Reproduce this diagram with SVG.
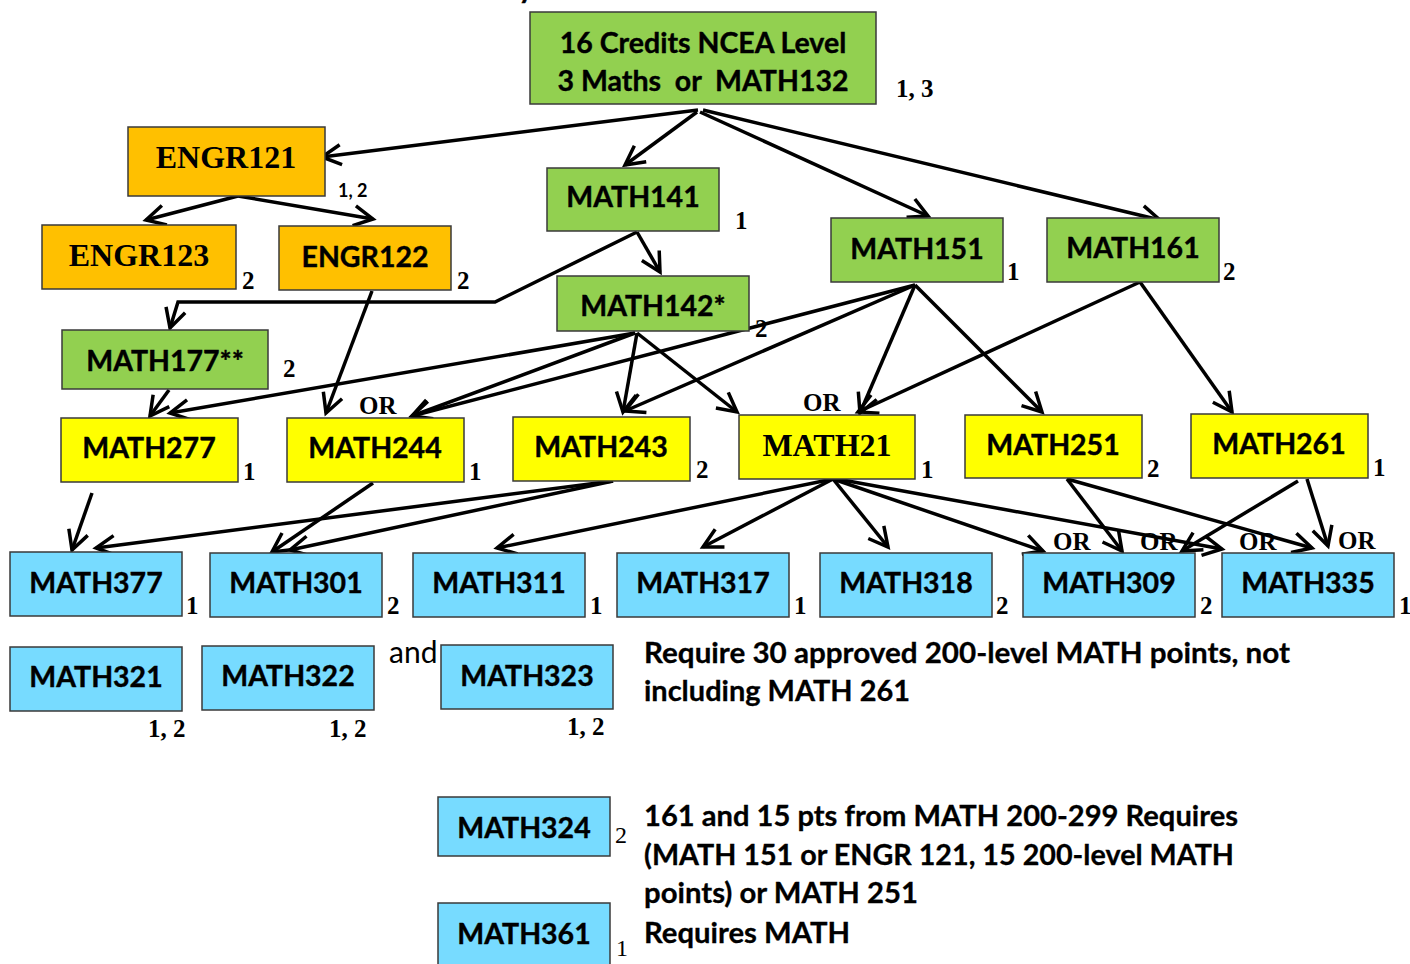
<svg xmlns="http://www.w3.org/2000/svg" width="1410" height="964" viewBox="0 0 1410 964">
<defs>
<marker id="a" markerUnits="userSpaceOnUse" markerWidth="30" markerHeight="30" viewBox="-24 -15 30 30" refX="0" refY="0" orient="auto" overflow="visible">
<path d="M-19,-10 L0,0 L-19,10" fill="none" stroke="#000" stroke-width="3.5" stroke-linejoin="miter"/>
</marker>
<style>
.bx{stroke:#3a3a3a;stroke-width:1.5}
.g{fill:#92D050}.o{fill:#FFC000}.y{fill:#FFFF00}.b{fill:#77DBFF}
.t{font-family:Lato,"Liberation Sans",sans-serif;font-weight:bold;font-size:28.5px;text-anchor:middle;fill:#000;stroke:#000;stroke-width:0.4}
.tt{font-family:"Liberation Serif",serif;font-weight:bold;font-size:32px;text-anchor:middle;fill:#000}
.n{font-family:"Liberation Serif",serif;font-weight:bold;font-size:25px;fill:#000}
.nr{font-family:"Liberation Serif",serif;font-size:24px;fill:#000}
.s{font-family:Lato,"Liberation Sans",sans-serif;font-weight:bold;font-size:18px;fill:#000}
.p{font-family:Lato,"Liberation Sans",sans-serif;font-weight:bold;font-size:29px;fill:#000;stroke:#000;stroke-width:0.3}
.r{font-family:Lato,"Liberation Sans",sans-serif;font-size:30px;fill:#000}
.c path{stroke:#000;stroke-width:3.5;fill:none;marker-end:url(#a)}
</style>
</defs>
<rect width="1410" height="964" fill="#fff"/>
<text class="t" x="526" y="-2">y</text>

<g class="c" id="connectors">
<path d="M698,110 L322,157"/>
<path d="M697,112 L625,165"/>
<path d="M700,112 L928,216"/>
<path d="M703,110 L1160,220"/>
<path d="M238,196 L146,220"/>
<path d="M238,196 L373,219"/>
<path d="M637,232 L660,272"/>
<path d="M637,232 L495,302 L178,302 L170,328"/>
<path d="M372,291 L326,413"/>
<path d="M169,390 L150,416"/>
<path d="M635,333 L170,413"/>
<path d="M635,333 L412,416"/>
<path d="M915,285 L412,416"/>
<path d="M915,285 L625,411"/>
<path d="M637,333 L623,412"/>
<path d="M637,333 L737,412"/>
<path d="M915,285 L860,413"/>
<path d="M1140,282 L858,412"/>
<path d="M915,285 L1042,412"/>
<path d="M1140,282 L1232,412"/>
<path d="M92,493 L72,550"/>
<path d="M373,483 L272,552"/>
<path d="M613,481 L96,548"/>
<path d="M613,481 L290,550"/>
<path d="M833,479 L497,548"/>
<path d="M833,479 L703,547"/>
<path d="M833,479 L888,547"/>
<path d="M833,479 L1043,551"/>
<path d="M837,479 L1222,549"/>
<path d="M1067,479 L1122,551"/>
<path d="M1067,479 L1312,548"/>
<path d="M1298,481 L1182,551"/>
<path d="M1307,479 L1328,546"/>
</g>

<g id="top"><rect class="bx g" x="530" y="12" width="346" height="92"/>
<text class="t" x="703" y="53">16 Credits NCEA Level</text>
<text class="t" x="703" y="91" xml:space="preserve">3 Maths  or  MATH132</text>
<text class="n" x="896" y="97">1, 3</text></g>

<g id="engr121"><rect class="bx o" x="128" y="127" width="197" height="69"/>
<text class="tt" x="226" y="168">ENGR121</text>
<text class="s" x="338" y="197">1, 2</text></g>

<g id="engr123"><rect class="bx o" x="42" y="225" width="194" height="64"/>
<text class="tt" x="139" y="266">ENGR123</text>
<text class="n" x="242" y="289">2</text></g>

<g id="engr122"><rect class="bx o" x="279" y="226" width="172" height="64"/>
<text class="t" x="365" y="267">ENGR122</text>
<text class="n" x="457" y="289">2</text></g>

<g id="math141"><rect class="bx g" x="547" y="168" width="172" height="63"/>
<text class="t" x="633" y="207">MATH141</text>
<text class="n" x="735" y="229">1</text></g>

<g id="math151"><rect class="bx g" x="831" y="218" width="172" height="64"/>
<text class="t" x="917" y="259">MATH151</text>
<text class="n" x="1007" y="280">1</text></g>

<g id="math161"><rect class="bx g" x="1047" y="218" width="172" height="64"/>
<text class="t" x="1133" y="258">MATH161</text>
<text class="n" x="1223" y="280">2</text></g>

<g id="math142"><rect class="bx g" x="557" y="276" width="192" height="55"/>
<text class="t" x="653" y="316">MATH142*</text>
<text class="n" x="755" y="337">2</text></g>

<g id="math177"><rect class="bx g" x="62" y="330" width="206" height="59"/>
<text class="t" x="165" y="371">MATH177**</text>
<text class="n" x="283" y="377">2</text></g>

<g id="math277"><rect class="bx y" x="61" y="418" width="177" height="64"/>
<text class="t" x="149" y="458">MATH277</text>
<text class="n" x="243" y="480">1</text></g>

<g id="math244"><rect class="bx y" x="287" y="418" width="177" height="64"/>
<text class="t" x="375" y="458">MATH244</text>
<text class="n" x="469" y="480">1</text>
<text class="n" x="359" y="414">OR</text></g>

<g id="math243"><rect class="bx y" x="513" y="417" width="177" height="64"/>
<text class="t" x="601" y="457">MATH243</text>
<text class="n" x="696" y="478">2</text></g>

<g id="math21"><rect class="bx y" x="739" y="415" width="176" height="64"/>
<text class="tt" x="827" y="456">MATH21</text>
<text class="n" x="921" y="478">1</text>
<text class="n" x="803" y="411">OR</text></g>

<g id="math251"><rect class="bx y" x="965" y="415" width="177" height="63"/>
<text class="t" x="1053" y="455">MATH251</text>
<text class="n" x="1147" y="477">2</text></g>

<g id="math261"><rect class="bx y" x="1191" y="414" width="177" height="64"/>
<text class="t" x="1279" y="454">MATH261</text>
<text class="n" x="1373" y="476">1</text></g>

<g id="math377"><rect class="bx b" x="10" y="552" width="172" height="64"/>
<text class="t" x="96" y="593">MATH377</text>
<text class="n" x="186" y="614">1</text></g>

<g id="math301"><rect class="bx b" x="210" y="553" width="172" height="64"/>
<text class="t" x="296" y="593">MATH301</text>
<text class="n" x="387" y="614">2</text></g>

<g id="math311"><rect class="bx b" x="413" y="553" width="172" height="64"/>
<text class="t" x="499" y="593">MATH311</text>
<text class="n" x="590" y="614">1</text></g>

<g id="math317"><rect class="bx b" x="617" y="553" width="172" height="64"/>
<text class="t" x="703" y="593">MATH317</text>
<text class="n" x="794" y="614">1</text></g>

<g id="math318"><rect class="bx b" x="820" y="553" width="172" height="64"/>
<text class="t" x="906" y="593">MATH318</text>
<text class="n" x="996" y="614">2</text></g>

<g id="math309"><rect class="bx b" x="1023" y="553" width="172" height="64"/>
<text class="t" x="1109" y="593">MATH309</text>
<text class="n" x="1200" y="614">2</text>
<text class="n" x="1053" y="550">OR</text>
<text class="n" x="1140" y="550">OR</text></g>

<g id="math335"><rect class="bx b" x="1222" y="553" width="172" height="64"/>
<text class="t" x="1308" y="593">MATH335</text>
<text class="n" x="1399" y="614">1</text>
<text class="n" x="1239" y="550">OR</text>
<text class="n" x="1338" y="549">OR</text></g>

<g id="math321"><rect class="bx b" x="10" y="647" width="172" height="64"/>
<text class="t" x="96" y="687">MATH321</text>
<text class="n" x="148" y="737">1, 2</text></g>

<g id="math322"><rect class="bx b" x="202" y="646" width="172" height="64"/>
<text class="t" x="288" y="686">MATH322</text>
<text class="n" x="329" y="737">1, 2</text></g>

<text class="r" x="389" y="663">and</text>

<g id="math323"><rect class="bx b" x="441" y="645" width="172" height="64"/>
<text class="t" x="527" y="686">MATH323</text>
<text class="n" x="567" y="735">1, 2</text></g>

<text class="p" x="644" y="663" textLength="646" lengthAdjust="spacingAndGlyphs">Require 30 approved 200-level MATH points, not</text>
<text class="p" x="644" y="701" textLength="266" lengthAdjust="spacingAndGlyphs">including MATH 261</text>

<g id="math324"><rect class="bx b" x="438" y="797" width="172" height="59"/>
<text class="t" x="524" y="838">MATH324</text>
<text class="nr" x="615" y="843">2</text></g>

<g id="math361"><rect class="bx b" x="438" y="903" width="172" height="66"/>
<text class="t" x="524" y="944">MATH361</text>
<text class="nr" x="616" y="956">1</text></g>

<text class="p" x="644" y="826" textLength="594" lengthAdjust="spacingAndGlyphs">161 and 15 pts from MATH 200-299 Requires</text>
<text class="p" x="644" y="865" textLength="590" lengthAdjust="spacingAndGlyphs">(MATH 151 or ENGR 121, 15 200-level MATH</text>
<text class="p" x="644" y="903" textLength="274" lengthAdjust="spacingAndGlyphs">points) or MATH 251</text>
<text class="p" x="644" y="943" textLength="206" lengthAdjust="spacingAndGlyphs">Requires MATH</text>
</svg>
